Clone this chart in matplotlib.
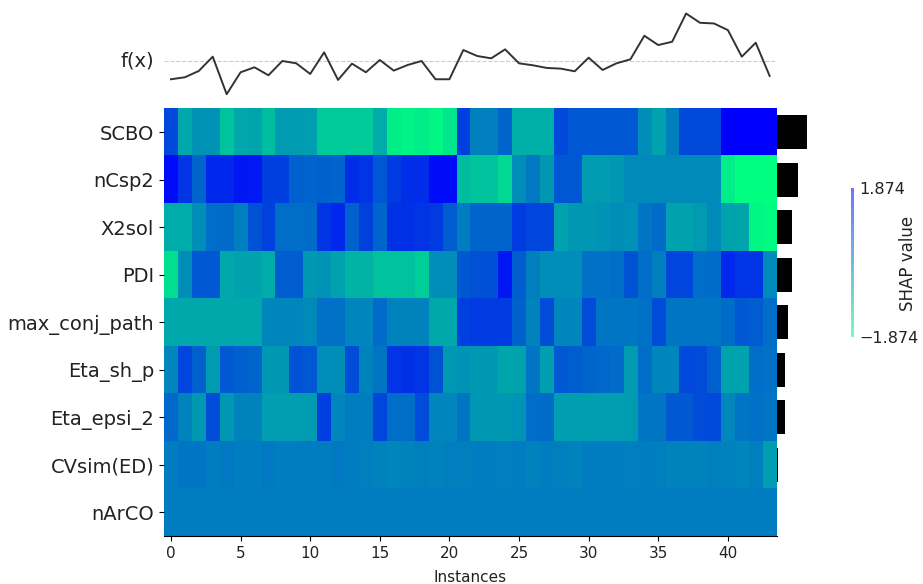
import numpy as np
import matplotlib
matplotlib.use("Agg")
import matplotlib.pyplot as plt

# features in display order (top to bottom)
features = ["SCBO", "nCsp2", "X2sol", "PDI", "max_conj_path",
            "Eta_sh_p", "Eta_epsi_2", "CVsim(ED)", "nArCO"]

# SHAP values per feature, one per instance (0..43)
scbo = [0.8, -0.6, -0.25, -0.3, -1.0, -0.6, -0.55, -0.9, -0.4, -0.4, -0.45,
        -1.1, -1.1, -1.1, -1.1, -0.65, -1.6, -1.7, -1.6, -1.75, -1.5, 0.95,
        0.0, 0.0, 0.4, -0.7, -0.7, -0.7, 0.8, 0.6, 0.6, 0.6,
        0.6, 0.6, -0.2, -0.5, 0.0, 0.8, 0.8, 0.8, 1.85, 1.85, 1.85, 1.85]
ncsp2 = [1.7, 1.1, 0.4, 1.3, 1.3, 1.55, 1.5, 0.95, 0.95, 0.45, 0.4,
         0.45, 0.4, 1.2, 1.1, 0.6, 1.0, 1.2, 1.2, 1.7, 1.7, -0.9,
         -1.0, -1.0, -1.3, -0.2, 0.1, -0.35, 0.6, 0.6, -0.4, -0.4,
         -0.35, -0.15, -0.15, -0.15, -0.15, -0.15, -0.15, -0.15, -1.6, -1.85, -1.85, -1.85]
x2sol = [-0.65, -0.65, -0.2, 0.25, 0.3, 0.0, 0.65, 0.9, 0.25, 0.25, 0.3,
         1.1, 1.3, 0.45, 0.9, 0.4, 1.15, 1.15, 1.1, 1.0, 0.5, 0.05,
         0.4, 0.4, 0.4, 1.0, 0.85, 0.85, -0.5, -0.35, -0.35, -0.3,
         -0.2, -0.25, 0.15, 0.3, -0.5, -0.5, -0.4, -0.15, -0.5, -0.55, -1.75, -1.8]
pdi = [-1.4, -0.2, 0.6, 0.6, -0.6, -0.5, -0.5, -0.65, 0.5, 0.5, -0.35,
       -0.3, -0.5, -0.75, -0.75, -1.0, -1.0, -1.0, -1.15, -0.2, -0.2, 0.6,
       0.65, 0.7, 1.55, 0.5, 0.0, -0.2, -0.2, -0.2, 0.2, 0.2,
       0.25, 0.65, 0.25, 0.0, 0.85, 0.85, 0.25, 0.3, 1.3, 1.1, 1.1, -0.15]
max_conj = [-0.6, -0.6, -0.6, -0.6, -0.6, -0.6, -0.6, -0.1, -0.1, -0.1, -0.15,
            0.2, 0.2, -0.1, -0.1, 0.3, -0.05, -0.05, -0.05, -0.6, -0.6, 0.95,
            1.0, 1.0, 1.0, 0.45, -0.05, 0.75, -0.1, -0.1, 0.75, 0.15,
            0.15, 0.15, 0.2, 0.75, 0.15, 0.15, 0.15, 0.15, 0.3, 0.55, 0.5, 0.25]
eta_sh_p = [-0.1, 0.85, 0.45, -0.4, 0.55, 0.45, 0.4, -0.35, -0.35, 0.65, 0.6,
            -0.2, -0.2, 0.75, -0.05, 0.15, 1.1, 1.15, 1.1, 0.65, -0.35, -0.3,
            -0.35, -0.35, -0.55, -0.5, 0.15, -0.45, 0.55, 0.5, 0.4, 0.35,
            0.3, -0.4, 0.25, -0.1, -0.1, 0.8, 0.75, 0.45, -0.5, -0.5, 0.25, 0.2]
eta_epsi_2 = [0.35, -0.05, -0.35, 0.75, -0.35, -0.05, -0.05, -0.45, -0.45, -0.45, -0.4,
              0.95, -0.1, 0.05, 0.05, 0.85, 0.25, 0.25, 0.75, -0.1, -0.1, 0.15,
              -0.35, -0.35, -0.35, -0.3, 0.25, 0.3, -0.45, -0.45, -0.45, -0.45,
              -0.45, -0.4, 0.15, 0.15, 0.55, 0.55, 0.75, 0.8, -0.1, 0.15, 0.2, 0.15]
cvsim = [0.05, 0.15, 0.15, 0.05, 0.1, 0.05, 0.05, 0.1, 0.05, 0.05, 0.05,
         0.05, 0.1, 0.05, 0.0, -0.05, -0.1, -0.05, 0.0, -0.05, 0.0, 0.0,
         0.05, 0.05, 0.0, 0.05, -0.05, 0.05, 0.0, -0.05, 0.05, 0.05,
         0.05, 0.0, 0.05, 0.0, -0.05, -0.05, -0.05, 0.0, -0.05, -0.1, 0.0, -0.45]
narco = [0.03, 0.03, 0.03, 0.03, 0.03, 0.03, 0.03, 0.03, 0.03, 0.03, 0.03,
         0.03, 0.03, 0.03, 0.03, 0.03, 0.03, 0.03, 0.03, 0.03, 0.03, 0.03,
         0.03, 0.03, 0.03, 0.03, 0.03, 0.03, 0.03, 0.03, 0.03, 0.03,
         0.03, 0.03, 0.03, 0.03, 0.03, 0.03, 0.03, 0.03, 0.03, 0.03, 0.03, 0.03]

# model output f(x) relative to base value
fx = [-0.55, -0.49, -0.30, 0.13, -1.00, -0.34, -0.19, -0.43, 0.00, -0.07,
      -0.39, 0.26, -0.57, -0.08, -0.34, 0.03, -0.29, -0.12, 0.00, -0.55,
      -0.55, 0.33, 0.15, 0.08, 0.35, -0.07, -0.13, -0.21, -0.23, -0.31,
      0.10, -0.27, -0.07, 0.05, 0.76, 0.48, 0.58, 1.43, 1.15, 1.13,
      0.93, 0.13, 0.55, -0.45]

# mean |SHAP| bars on the right
mean_abs = [2.2, 1.55, 1.12, 1.08, 0.79, 0.6, 0.6, 0.12, 0.02]

vmax = 1.874

values = np.array([scbo, ncsp2, x2sol, pdi, max_conj, eta_sh_p,
                   eta_epsi_2, cvsim, narco])
n_feat, n_inst = values.shape
fx = np.array(fx)

fig = plt.figure(figsize=(9.23, 5.84), dpi=100)
ax = fig.add_axes([164 / 923, 48 / 584, 612.6 / 923, 536 / 584])

im = ax.imshow(values, aspect="auto", interpolation="nearest", cmap="winter_r",
               vmin=-vmax, vmax=vmax,
               extent=(-0.5, n_inst - 0.5, n_feat - 0.5, -0.5))

# f(x) line above the heatmap
ax.axhline(-1.5, color="#cccccc", linestyle="--", linewidth=0.8)
ax.plot(np.arange(n_inst), -fx / np.abs(fx).max() - 1.5, color="#333333", linewidth=1.4)
ax.text(-1.2, -1.5, "f(x)", ha="right", va="center", fontsize=14, color="#222222")

# bars of mean |SHAP|
ax.barh(np.arange(n_feat), mean_abs, height=0.72, left=n_inst - 0.5,
        color="#000000", clip_on=False)

ax.set_xlim(-0.5, n_inst - 0.5)
ax.set_ylim(n_feat - 0.5, -2.784)
ax.set_yticks(np.arange(n_feat))
ax.set_yticklabels(features, fontsize=14, color="#222222")
ax.set_xticks(np.arange(0, n_inst, 5))
ax.tick_params(axis="x", labelsize=11, labelcolor="#222222")
ax.set_xlabel("Instances", fontsize=11, color="#222222", labelpad=7)
for s in ["top", "right", "left"]:
    ax.spines[s].set_visible(False)
ax.spines["bottom"].set_bounds(-0.5, n_inst - 0.5)

# thin colorbar
cax = fig.add_axes([851 / 923, 247 / 584, 3 / 923, 149 / 584])
cb = fig.colorbar(im, cax=cax, ticks=[-vmax, vmax])
cb.outline.set_visible(False)
cb.solids.set_alpha(0.55)
cax.tick_params(length=0, labelsize=11.5, pad=4, labelcolor="#222222")
cax.set_yticklabels(["\u22121.874", "1.874"])
fig.text(908 / 923, 1 - 263 / 584, "SHAP value", rotation=90, ha="center",
         va="center", fontsize=12, color="#222222")

fig.savefig("out.png", dpi=100)
